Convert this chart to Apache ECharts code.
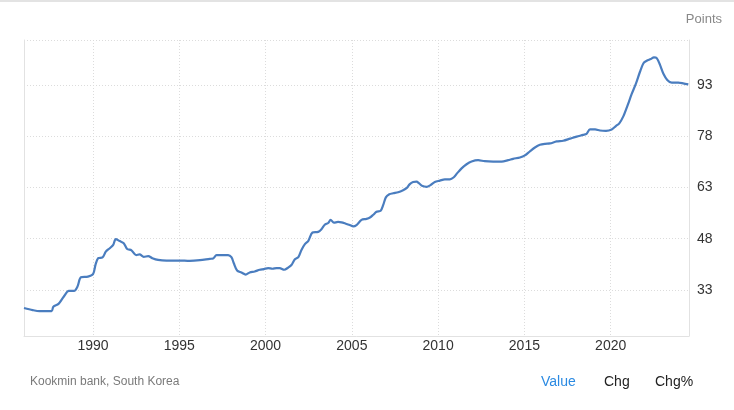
<!DOCTYPE html>
<html>
<head>
<meta charset="utf-8">
<script src="https://cdn.jsdelivr.net/npm/echarts@6/dist/echarts.min.js"></script>
<style>
html,body{margin:0;padding:0;background:#fff;}
body{border-top:2px solid #e3e3e3;box-sizing:border-box;}
#c{width:734px;height:408px;}
</style>
</head>
<body>
<div id="c"></div>
<script>
// Decimal year of each reading
const dates = [1986.0, 1986.5, 1986.9, 1987.6, 1987.7, 1988.0, 1988.3, 1988.6, 1988.9, 1989.1,
  1989.3, 1989.7, 1990.0, 1990.15, 1990.3, 1990.55, 1990.74, 1990.97, 1991.17, 1991.32,
  1991.55, 1991.78, 1991.98, 1992.23, 1992.5, 1992.7, 1992.94, 1993.2, 1993.44, 1993.77,
  1994.26, 1995.0, 1995.6, 1996.2, 1996.77, 1996.96, 1997.16, 1997.44, 1997.83, 1998.02,
  1998.16, 1998.35, 1998.6, 1998.85, 1999.08, 1999.37, 1999.66, 1999.9, 2000.15, 2000.4,
  2000.64, 2000.82, 2001.08, 2001.3, 2001.5, 2001.7, 2001.9, 2002.08, 2002.28, 2002.47,
  2002.72, 2003.05, 2003.24, 2003.43, 2003.63, 2003.77, 2003.96, 2004.2, 2004.4, 2004.65,
  2004.88, 2005.08, 2005.27, 2005.56, 2005.85, 2006.05, 2006.24, 2006.43, 2006.67, 2006.82,
  2006.97, 2007.17, 2007.4, 2007.68, 2007.97, 2008.17, 2008.36, 2008.55, 2008.75, 2008.9,
  2009.1, 2009.33, 2009.56, 2009.81, 2010.1, 2010.39, 2010.68, 2010.91, 2011.11, 2011.36,
  2011.65, 2011.94, 2012.32, 2012.7, 2013.19, 2013.68, 2014.06, 2014.35, 2014.74, 2015.03,
  2015.32, 2015.61, 2015.9, 2016.2, 2016.48, 2016.87, 2017.25, 2017.64, 2018.03, 2018.41,
  2018.6, 2018.8, 2019.1, 2019.38, 2019.73, 2020.06, 2020.3, 2020.5, 2020.74, 2020.97,
  2021.22, 2021.47, 2021.7, 2021.9, 2022.09, 2022.32, 2022.51, 2022.67, 2022.86, 2023.05,
  2023.28, 2023.54, 2023.92, 2024.2, 2024.5];
// Index value (points)
const values = [27.7, 27.1, 26.8, 26.8, 28.1, 28.9, 31.0, 32.7, 32.7, 34.0,
  36.7, 36.9, 37.6, 40.5, 42.3, 42.5, 44.2, 45.2, 46.2, 47.9,
  47.3, 46.7, 45.0, 44.6, 43.2, 43.4, 42.7, 42.9, 42.3, 41.8,
  41.6, 41.6, 41.5, 41.7, 42.1, 42.2, 43.2, 43.2, 43.2, 42.6,
  40.8, 38.7, 38.1, 37.5, 38.1, 38.4, 38.9, 39.1, 39.4, 39.2,
  39.4, 39.4, 38.9, 39.5, 40.3, 42.0, 42.6, 44.7, 46.4, 47.3,
  49.8, 50.0, 50.8, 52.1, 52.6, 53.5, 52.7, 52.9, 52.8, 52.4,
  52.0, 51.6, 52.0, 53.5, 53.8, 54.2, 55.0, 55.9, 56.2, 57.9,
  60.1, 61.0, 61.3, 61.6, 62.2, 62.8, 64.0, 64.6, 64.7, 64.2,
  63.4, 63.2, 63.7, 64.6, 65.0, 65.4, 65.4, 66.0, 67.2, 68.6,
  69.8, 70.6, 71.0, 70.7, 70.6, 70.6, 71.0, 71.4, 71.8, 72.4,
  73.6, 74.7, 75.5, 75.8, 75.9, 76.5, 76.7, 77.3, 77.9, 78.4,
  78.7, 80.0, 80.0, 79.7, 79.6, 80.0, 81.0, 81.8, 83.9, 86.9,
  90.4, 93.5, 96.9, 99.4, 100.1, 100.6, 101.1, 100.9, 98.9, 96.4,
  94.5, 93.7, 93.7, 93.5, 93.2];
const xTicks = [1990, 1995, 2000, 2005, 2010, 2015, 2020];
const yTicks = [33, 48, 63, 78, 93];
const xMin = 1986.0, xMax = 2024.54;
const yMin = 19.5, yMax = 106.2;

const chart = echarts.init(document.getElementById('c'), null, {renderer: 'canvas'});
const font = 'Arial, "Liberation Sans", sans-serif';
chart.setOption({
  animation: false,
  backgroundColor: '#fff',
  textStyle: {fontFamily: font},
  title: [
    {text: 'Points', right: 7, top: 6, textStyle: {fontSize: 13, fontWeight: 'normal', color: '#888', fontFamily: font}},
    {text: 'Kookmin bank, South Korea', left: 25, top: 369, textStyle: {fontSize: 12, fontWeight: 'normal', color: '#7a7a7a', fontFamily: font}},
    {text: 'Value', left: 536, top: 368, textStyle: {fontSize: 14, fontWeight: 'normal', color: '#2b8ae2', fontFamily: font}},
    {text: 'Chg', left: 599, top: 368, textStyle: {fontSize: 14, fontWeight: 'normal', color: '#222', fontFamily: font}},
    {text: 'Chg%', left: 650, top: 368, textStyle: {fontSize: 14, fontWeight: 'normal', color: '#222', fontFamily: font}}
  ],
  grid: {left: 24, right: 45, top: 38, bottom: 74, containLabel: false},
  xAxis: {
    type: 'value', min: xMin, max: xMax,
    axisLine: {show: true, lineStyle: {color: '#e2e2e2', width: 1}},
    axisTick: {show: false, customValues: xTicks},
    axisLabel: {customValues: xTicks, formatter: v => String(v), color: '#333', fontSize: 14, margin: 3, fontFamily: font},
    splitLine: {show: true, lineStyle: {color: '#dcdcdc', type: [1, 2], width: 1}}
  },
  yAxis: [{
    type: 'value', position: 'right', min: yMin, max: yMax,
    axisLine: {show: true, lineStyle: {color: '#e2e2e2', width: 1}},
    axisTick: {show: false, customValues: yTicks.concat([yMax])},
    axisLabel: {customValues: yTicks, color: '#333', fontSize: 14, margin: 8, fontFamily: font},
    splitLine: {show: true, lineStyle: {color: '#dcdcdc', type: [1, 2], width: 1}}
  }, {
    type: 'value', position: 'left', min: yMin, max: yMax,
    axisLine: {show: true, onZero: false, lineStyle: {color: '#e2e2e2', width: 1}},
    axisTick: {show: false}, axisLabel: {show: false}, splitLine: {show: false}
  }],
  series: [{
    type: 'line',
    data: dates.map((d, i) => [d, values[i]]),
    showSymbol: false,
    smooth: 0.3,
    lineStyle: {color: '#4a7dbf', width: 2.2},
    itemStyle: {color: '#4a7dbf'}
  }]
});
</script>
</body>
</html>
